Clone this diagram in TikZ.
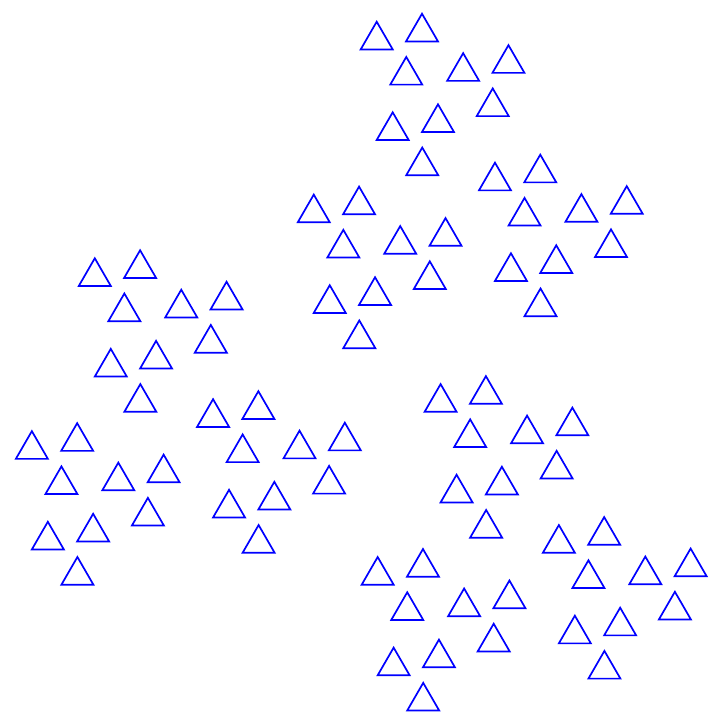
\documentclass[tikz,border=0pt]{standalone}
\begin{document}
\begin{tikzpicture}[x=1pt,y=-1pt,
  tri/.style={draw={rgb,255:red,0;green,0;blue,255},line width=1.7pt,line join=miter}]
\useasboundingbox (0,0) rectangle (720,726);
\foreach \p in {0,1,2}{
 \foreach \q in {0,1,2}{
  \foreach \r in {0,1,2}{
   \foreach \t in {0,1,2}{
    \pgfmathsetmacro\La{ifthenelse(\p>0,46,0)}
    \pgfmathsetmacro\Lb{ifthenelse(\q>0,92,0)}
    \pgfmathsetmacro\Lc{ifthenelse(\r>0,184,0)}
    \pgfmathsetmacro\Ld{ifthenelse(\t>0,368,0)}
    \pgfmathsetmacro\Aa{-10+60*(\p-1)}
    \pgfmathsetmacro\Ab{20+60*(\q-1)}
    \pgfmathsetmacro\Ac{50+60*(\r-1)}
    \pgfmathsetmacro\Ad{80+60*(\t-1)}
    \draw[tri] (376.7,21.7) ++(\Aa:\La) ++(\Ab:\Lb) ++(\Ac:\Lc) ++(\Ad:\Ld)
      -- ++(-16,27.7) -- ++(32,0) -- cycle;
   }
  }
 }
}
\end{tikzpicture}
\end{document}
